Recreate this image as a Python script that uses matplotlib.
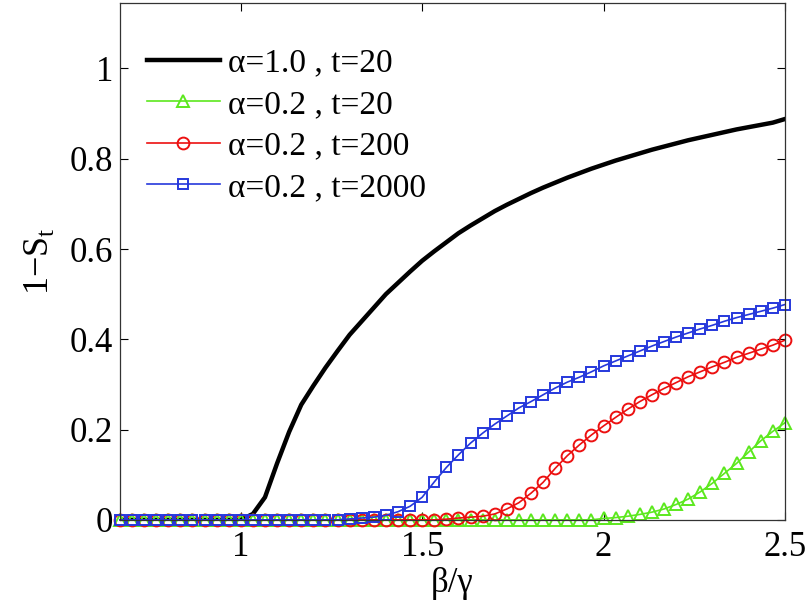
import numpy as np
import matplotlib
matplotlib.use("Agg")
import matplotlib.pyplot as plt

plt.rcParams['font.family'] = ['Liberation Serif', 'DejaVu Serif']
plt.rcParams['mathtext.fontset'] = 'custom'
plt.rcParams['mathtext.rm'] = 'Liberation Serif'

# x grid: beta/gamma from 2/3 to 2.5 in steps of 1/30 (56 points)
x = np.linspace(2/3, 2.5, 56)

black_a10_t20 = [0]*11 + [
    0.013, 0.05, 0.125, 0.195, 0.255, 0.297, 0.337, 0.374, 0.41, 0.44,
    0.47, 0.50, 0.525, 0.55, 0.574, 0.595, 0.615, 0.635, 0.652, 0.668,
    0.684, 0.698, 0.711, 0.724, 0.736, 0.747, 0.758, 0.768, 0.778, 0.787,
    0.796, 0.804, 0.812, 0.820, 0.827, 0.834, 0.841, 0.847, 0.853, 0.859,
    0.865, 0.870, 0.875, 0.880, 0.888]

green_a02_t20 = [0]*40 + [
    0.003, 0.005, 0.008, 0.012, 0.017, 0.024, 0.034, 0.046, 0.062, 0.081,
    0.103, 0.125, 0.150, 0.175, 0.196, 0.215]

red_a02_t200 = [0]*27 + [
    0.0015, 0.004, 0.006, 0.008, 0.013, 0.024, 0.038, 0.059, 0.083, 0.114,
    0.142, 0.166, 0.188, 0.208, 0.227, 0.245, 0.262, 0.277, 0.291, 0.304,
    0.317, 0.328, 0.339, 0.349, 0.360, 0.369, 0.378, 0.387, 0.398]

blue_a02_t2000 = [0]*19 + [
    0.002, 0.004, 0.006, 0.010, 0.018, 0.030, 0.050, 0.084, 0.116, 0.144,
    0.170, 0.192, 0.212, 0.230, 0.248, 0.262, 0.277, 0.292, 0.305, 0.316,
    0.328, 0.341, 0.352, 0.363, 0.374, 0.385, 0.395, 0.405, 0.414, 0.423,
    0.431, 0.440, 0.448, 0.455, 0.462, 0.469, 0.477]

labels = ['α=1.0 , t=20', 'α=0.2 , t=20', 'α=0.2 , t=200', 'α=0.2 , t=2000']
xticks = [1, 1.5, 2, 2.5]
xticklabels = ['1', '1.5', '2', '2.5']
yticks = [0, 0.2, 0.4, 0.6, 0.8, 1]
yticklabels = ['0', '0.2', '0.4', '0.6', '0.8', '1']

fig = plt.figure(figsize=(8.1, 6.08), dpi=100)
ax = fig.add_axes([0.148, 0.145, 0.821, 0.850])

ax.plot(x, black_a10_t20, color='black', lw=3.2, label=labels[0])
ax.plot(x, green_a02_t20, color='#5ce81e', lw=1.2, marker='^', ms=8.5,
        mfc='none', mew=1.4, label=labels[1], clip_on=False)
ax.plot(x, red_a02_t200, color='#ec1010', lw=1.2, marker='o', ms=8.5,
        mfc='none', mew=1.4, label=labels[2], clip_on=False)
ax.plot(x, blue_a02_t2000, color='#2638dc', lw=1.2, marker='s', ms=7.5,
        mfc='none', mew=1.4, label=labels[3], clip_on=False)

ax.set_xlim(2/3, 2.5)
ax.set_ylim(0, 1.145)
ax.set_xticks(xticks)
ax.set_xticklabels(xticklabels)
ax.set_yticks(yticks)
ax.set_yticklabels(yticklabels)
ax.tick_params(axis='x', pad=8)
ax.tick_params(direction='in', top=True, right=True, labelsize=25,
               length=6, width=0.8)
ax.tick_params(axis='y', pad=5)
for s in ax.spines.values():
    s.set_linewidth(0.9)
    s.set_color('#333333')

ax.set_xlabel('β/γ', fontsize=25, labelpad=2)
ax.set_ylabel('1−S$_\\mathregular{t}$', fontsize=26, labelpad=10)

leg = ax.legend(loc='upper left', frameon=False, fontsize=24,
                handlelength=2.2, handletextpad=0.25, labelspacing=0.33,
                bbox_to_anchor=(0.005, 0.958), borderaxespad=0.3)

fig.savefig('out.png', dpi=100)
